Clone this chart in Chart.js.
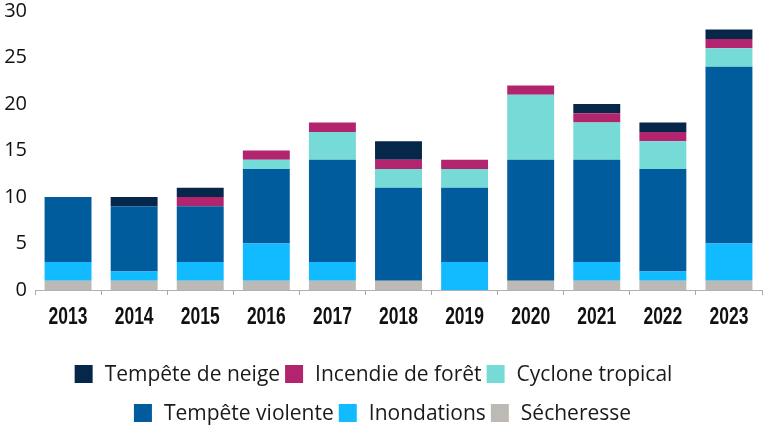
<!DOCTYPE html>
<html>
<head>
<meta charset="utf-8">
<script src="https://cdn.jsdelivr.net/npm/chart.js@4/dist/chart.umd.min.js"></script>
<style>
  html, body { margin: 0; padding: 0; background: #fff; }
  #wrap { width: 765px; height: 436px; position: relative; }
</style>
</head>
<body>
<div id="wrap"><canvas id="chart"></canvas></div>
<script>
// Years on the x axis
const years = ['2013', '2014', '2015', '2016', '2017', '2018', '2019', '2020', '2021', '2022', '2023'];

// Number of events per type (stacked bottom to top)
const secheresse      = [1, 1, 1, 1, 1, 1, 0, 1, 1, 1, 1];
const inondations     = [2, 1, 2, 4, 2, 0, 3, 0, 2, 1, 4];
const tempeteViolente = [7, 7, 6, 8, 11, 10, 8, 13, 11, 11, 19];
const cyclone         = [0, 0, 0, 1, 3, 2, 2, 7, 4, 3, 2];
const incendie        = [0, 0, 1, 1, 1, 1, 1, 1, 1, 1, 1];
const neige           = [0, 1, 1, 0, 0, 2, 0, 0, 1, 1, 1];

const yTicks = [0, 5, 10, 15, 20, 25, 30];

const colors = {
    secheresse: '#bdbab6',
    inondations: '#12bbff',
    tempeteViolente: '#015c9d',
    cyclone: '#76dbd6',
    incendie: '#b3246f',
    neige: '#06274a'
};

// Legend rows use dataset indexes (top series first)
const legendRows = [[5, 4, 3], [2, 1, 0]];

// Two-row legend drawn on the canvas
const rowLegend = {
    id: 'rowLegend',
    afterDraw(chart) {
        const ctx = chart.ctx;
        const box = 18;
        const boxGap = 12;
        const itemGap = 5;
        const rowShift = [-9, 0];
        ctx.save();
        ctx.font = '21px "Open Sans", sans-serif';
        ctx.textBaseline = 'middle';
        legendRows.forEach((row, r) => {
            const y = 374 + r * 39;
            const items = row.map(i => chart.data.datasets[i]);
            const widths = items.map(ds => box + boxGap + ctx.measureText(ds.label).width);
            const total = widths.reduce((a, b) => a + b, 0) + itemGap * (items.length - 1);
            let x = (chart.width - total) / 2 + rowShift[r];
            items.forEach((ds, k) => {
                ctx.fillStyle = ds.backgroundColor;
                ctx.fillRect(x, y - box / 2, box, box);
                ctx.fillStyle = '#1a1a1a';
                ctx.fillText(ds.label, x + box + boxGap, y + 1);
                x += widths[k] + itemGap;
            });
        });
        ctx.restore();
    }
};

// Condensed bold year labels (no narrow font installed, so squeeze horizontally)
const narrowLabels = {
    id: 'narrowLabels',
    afterDraw(chart) {
        const ctx = chart.ctx;
        const xs = chart.scales.x;
        ctx.save();
        ctx.font = 'bold 23px "Liberation Sans", sans-serif';
        ctx.textAlign = 'center';
        ctx.textBaseline = 'middle';
        ctx.fillStyle = '#111';
        years.forEach((label, i) => {
            ctx.save();
            ctx.translate(xs.getPixelForValue(i), 318);
            ctx.scale(0.76, 1);
            ctx.fillText(label, 0, 0);
            ctx.restore();
        });
        ctx.restore();
    }
};

new Chart(document.getElementById('chart'), {
    type: 'bar',
    data: {
        labels: years,
        datasets: [
            { label: 'Sécheresse', data: secheresse, backgroundColor: colors.secheresse },
            { label: 'Inondations', data: inondations, backgroundColor: colors.inondations },
            { label: 'Tempête violente', data: tempeteViolente, backgroundColor: colors.tempeteViolente },
            { label: 'Cyclone tropical', data: cyclone, backgroundColor: colors.cyclone },
            { label: 'Incendie de forêt', data: incendie, backgroundColor: colors.incendie },
            { label: 'Tempête de neige', data: neige, backgroundColor: colors.neige }
        ]
    },
    options: {
        responsive: true,
        maintainAspectRatio: false,
        animation: false,
        layout: {
            padding: { top: 0, left: 0, right: 3, bottom: 106 }
        },
        datasets: {
            bar: {
                barPercentage: 0.71,
                categoryPercentage: 1,
                borderWidth: 0
            }
        },
        plugins: {
            legend: { display: false },
            tooltip: { enabled: false }
        },
        scales: {
            x: {
                stacked: true,
                grid: {
                    display: true,
                    drawOnChartArea: false,
                    offset: true,
                    tickLength: 5,
                    color: '#aaaaaa'
                },
                border: { color: '#b0b0b0', width: 1 },
                ticks: { display: false },
                afterFit: (scale) => { scale.height = 40; }
            },
            y: {
                stacked: true,
                min: 0,
                max: 30,
                afterBuildTicks: (scale) => { scale.ticks = yTicks.map(v => ({ value: v })); },
                grid: { display: false, drawTicks: false },
                border: { display: false },
                ticks: {
                    padding: 8,
                    color: '#111',
                    font: { family: '"Open Sans", sans-serif', size: 20 }
                },
                afterFit: (scale) => {
                    scale.width = 35;
                    scale.paddingTop = 11;
                }
            }
        }
    },
    plugins: [rowLegend, narrowLabels]
});
</script>
</body>
</html>
